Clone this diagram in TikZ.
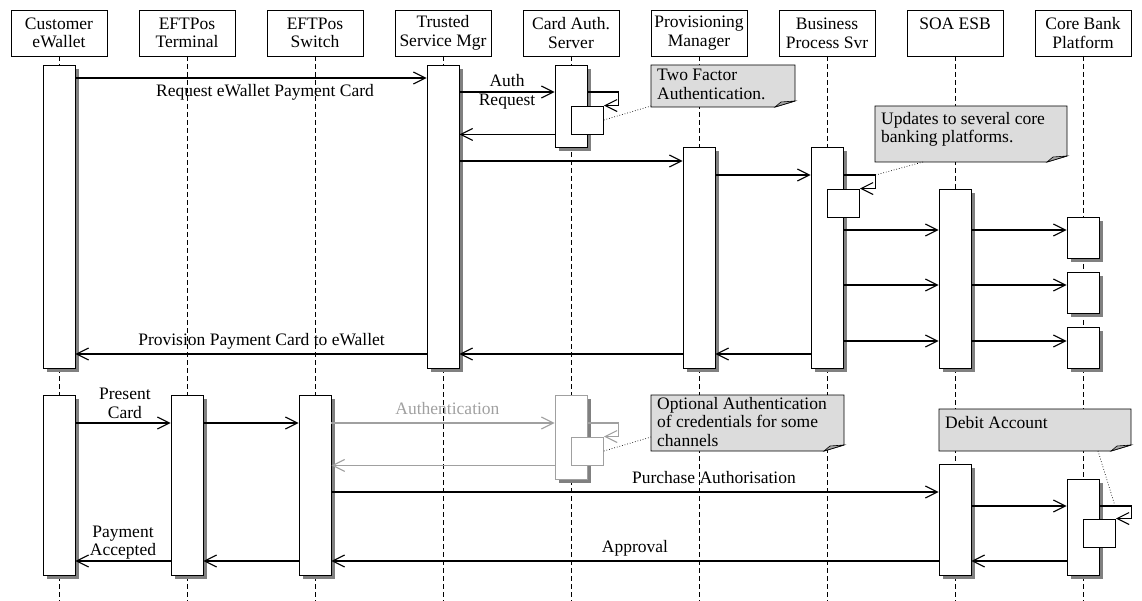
\documentclass[tikz,border=0pt]{standalone}
\usepackage{fontspec}
\setmainfont{Liberation Serif}
\usepackage{tikz}
\usetikzlibrary{arrows.meta,positioning}
\usetikzlibrary{shadows}

\definecolor{notegray}{HTML}{DCDCDC}
\definecolor{faded}{HTML}{A0A0A0}
\definecolor{shade}{HTML}{808080}

\tikzset{
  head/.style={draw, line width=0.9pt, fill=white, minimum width=96pt, minimum height=46pt,
    inner sep=2pt, outer sep=0pt, align=center},
  act/.style={draw, line width=0.9pt, fill=white, minimum width=32pt, inner sep=0pt,
    drop shadow={shadow xshift=4pt, shadow yshift=-4pt, fill=shade, opacity=1}},
  sub/.style={draw, line width=0.9pt, fill=white, minimum width=32pt, minimum height=28pt,
    inner sep=0pt, anchor=west},
  lifeline/.style={line width=0.9pt, dash pattern=on 5pt off 3pt},
  msg/.style={line width=1.1pt, -{Straight Barb[length=12pt,width=12pt]}},
  lbl/.style={inner sep=1pt, text height=12pt, text depth=4pt},
  lbltwo/.style={inner sep=1pt, align=center},
  note/.style={draw, line width=0.9pt, fill=notegray},
  fold/.style={draw, line width=0.6pt, fill=shade!70},
  notetxt/.style={anchor=north west, align=left, inner sep=0pt},
  link/.style={dotted, line width=0.7pt}
}

\begin{document}
\begin{tikzpicture}[x=1pt, y=-1pt, node distance=32pt,
  font=\fontsize{17.5}{18.6}\selectfont]
  \useasboundingbox (0,0) rectangle (1142,601);
  % Define nodes
  \node[head]                  (cust) at (59,33) {Customer\\eWallet};
  \node[head, right=of cust]   (term) {EFTPos\\Terminal};
  \node[head, right=of term]   (swch) {EFTPos\\Switch};
  \node[head, right=of swch]   (tsm)  {Trusted\\Service Mgr};
  \node[head, right=of tsm]    (cas)  {Card Auth.\\Server};
  \node[head, right=of cas]    (prov) {Provisioning\\Manager};
  \node[head, right=of prov]   (bps)  {Business\\Process Svr};
  \node[head, right=of bps]    (esb)  {SOA ESB\\\mbox{}};
  \node[head, right=of esb]    (core) {Core Bank\\Platform};
  \coordinate (bot) at (0,601);
  \foreach \n in {cust,term,swch,tsm,cas,prov,bps,esb,core}
    \draw[lifeline] (\n.south) -- (\n.south |- bot);

  % Activations, provisioning
  \node[act, minimum height=303pt] (c1) at (cust |- 0,216.5) {};
  \node[act, minimum height=303pt] (t1) at (tsm |- 0,216.5) {};
  \node[act, minimum height=82pt]  (a1) at (cas |- 0,106) {};
  \node[sub]                       (a1s) at (cas |- 0,120) {};
  \node[act, minimum height=221pt] (p1) at (prov |- 0,257.5) {};
  \node[act, minimum height=221pt] (b1) at (bps |- 0,257.5) {};
  \node[sub]                       (b1s) at (bps |- 0,203) {};
  \node[act, minimum height=179pt] (e1) at (esb |- 0,278.5) {};
  \node[act, minimum height=41pt]  (k1) at (core |- 0,237.5) {};
  \node[act, minimum height=41pt]  (k2) at (core |- 0,292.5) {};
  \node[act, minimum height=41pt]  (k3) at (core |- 0,347.5) {};

  % Activations, payment
  \node[act, minimum height=180pt] (c2) at (cust |- 0,485) {};
  \node[act, minimum height=180pt] (r2) at (term |- 0,485) {};
  \node[act, minimum height=180pt] (s2) at (swch |- 0,485) {};
  \node[act, draw=faded, minimum height=84pt] (a2) at (cas |- 0,437) {};
  \node[sub, draw=faded]           (a2s) at (cas |- 0,451) {};
  \node[act, minimum height=111pt] (e2) at (esb |- 0,519.5) {};
  \node[act, minimum height=96pt]  (k4) at (core |- 0,527) {};
  \node[sub]                       (k4s) at (core |- 0,533) {};

  % Connect the nodes
  \draw[msg] (c1.east |- 0,78) -- node[lbl, below=5pt, pos=0.54] {Request eWallet Payment Card} (t1.west |- 0,78); %
  \draw[msg] (t1.east |- 0,92) -- node[lbltwo, pos=0.5] {Auth\\Request} (a1.west |- 0,92); %
  \draw[msg] (a1.east |- 0,92) -- ++(31,0) |- (a1s.north east); %
  \draw[msg] (a1.west |- a1s.south) -- (t1.east |- a1s.south); %
  \draw[msg] (t1.east |- 0,161) -- (p1.west |- 0,161); %
  \draw[msg] (p1.east |- 0,175) -- (b1.west |- 0,175); %
  \draw[msg] (b1.east |- 0,175) -- ++(32,0) coordinate (b1loop) |- (b1s.north east); %
  \foreach \k/\y in {k1/230,k2/285,k3/341} {
    \draw[msg] (b1.east |- 0,\y) -- (e1.west |- 0,\y); %
    \draw[msg] (e1.east |- 0,\y) -- (\k.west |- 0,\y); %
  }
  \draw[msg] (b1.west |- 0,354) -- (p1.east |- 0,354); %
  \draw[msg] (p1.west |- 0,354) -- (t1.east |- 0,354); %
  \draw[msg] (t1.west |- 0,354) -- node[lbl, above=3pt, pos=0.47] {Provision Payment Card to eWallet} (c1.east |- 0,354); %

  \draw[msg] (c2.east |- 0,423) -- node[lbltwo, above=3pt, pos=0.52] {Present\\Card} (r2.west |- 0,423); %
  \draw[msg] (r2.east |- 0,423) -- (s2.west |- 0,423); %
  \draw[msg, faded] (s2.east |- 0,423) -- node[lbl, above=3pt, pos=0.52] {Authentication} (a2.west |- 0,423); %
  \draw[msg, faded] (a2.east |- 0,423) -- ++(31,0) |- (a2s.north east); %
  \draw[msg, faded] (a2.west |- a2s.south) -- (s2.east |- a2s.south); %
  \draw[msg] (s2.east |- 0,492) -- node[lbl, above=3pt, pos=0.63] {Purchase Authorisation} (e2.west |- 0,492); %
  \draw[msg] (e2.east |- 0,506) -- (k4.west |- 0,506); %
  \draw[msg] (k4.east |- 0,506) -- ++(32,0) |- (k4s.north east); %
  \draw[msg] (k4.west |- 0,561) -- (e2.east |- 0,561); %
  \draw[msg] (e2.west |- 0,561) -- node[lbl, above=3pt, pos=0.5] {Approval} (s2.east |- 0,561); %
  \draw[msg] (s2.west |- 0,561) -- (r2.east |- 0,561); %
  \draw[msg] (r2.west |- 0,561) -- node[lbltwo, above=0pt, pos=0.5] {Payment\\Accepted} (c2.east |- 0,561); %

  % Notes
  \draw[note] (651,65) -- (795,65) -- (795,101) -- (775,107) -- (651,107) -- cycle;
  \draw[fold] (775,107) -- (781,102) -- (795,101) -- cycle;
  \node[notetxt] (tfa) at (657,69) {Two Factor\\Authentication.};
  \coordinate (tfapin) at (651,106);
  \draw[link] (a1s.east) -- (tfapin);

  \draw[note] (875,106) -- (1067,106) -- (1067,156) -- (1047,162) -- (875,162) -- cycle;
  \draw[fold] (1047,162) -- (1053,157) -- (1067,156) -- cycle;
  \node[notetxt] (upd) at (881,112) {Updates to several core\\banking platforms.};
  \coordinate (updpin) at (923,162);
  \draw[link] (b1loop) -- (updpin);

  \draw[note] (651,395) -- (844,395) -- (844,445) -- (824,451) -- (651,451) -- cycle;
  \draw[fold] (824,451) -- (830,446) -- (844,445) -- cycle;
  \node[notetxt] (optn) at (657,397) {Optional Authentication\\of credentials for some\\channels};
  \coordinate (optpin) at (651,437);
  \draw[link] (a2s.east) -- (optpin);

  \draw[note] (939,409) -- (1131,409) -- (1131,445) -- (1111,451) -- (939,451) -- cycle;
  \draw[fold] (1111,451) -- (1117,446) -- (1131,445) -- cycle;
  \node[notetxt] (dbt) at (945,416) {Debit Account};
  \coordinate (dbtpin) at (1098,451);
  \coordinate (k4tap) at (1115,506);
  \draw[link] (dbtpin) -- (k4tap);
\end{tikzpicture}
\end{document}
